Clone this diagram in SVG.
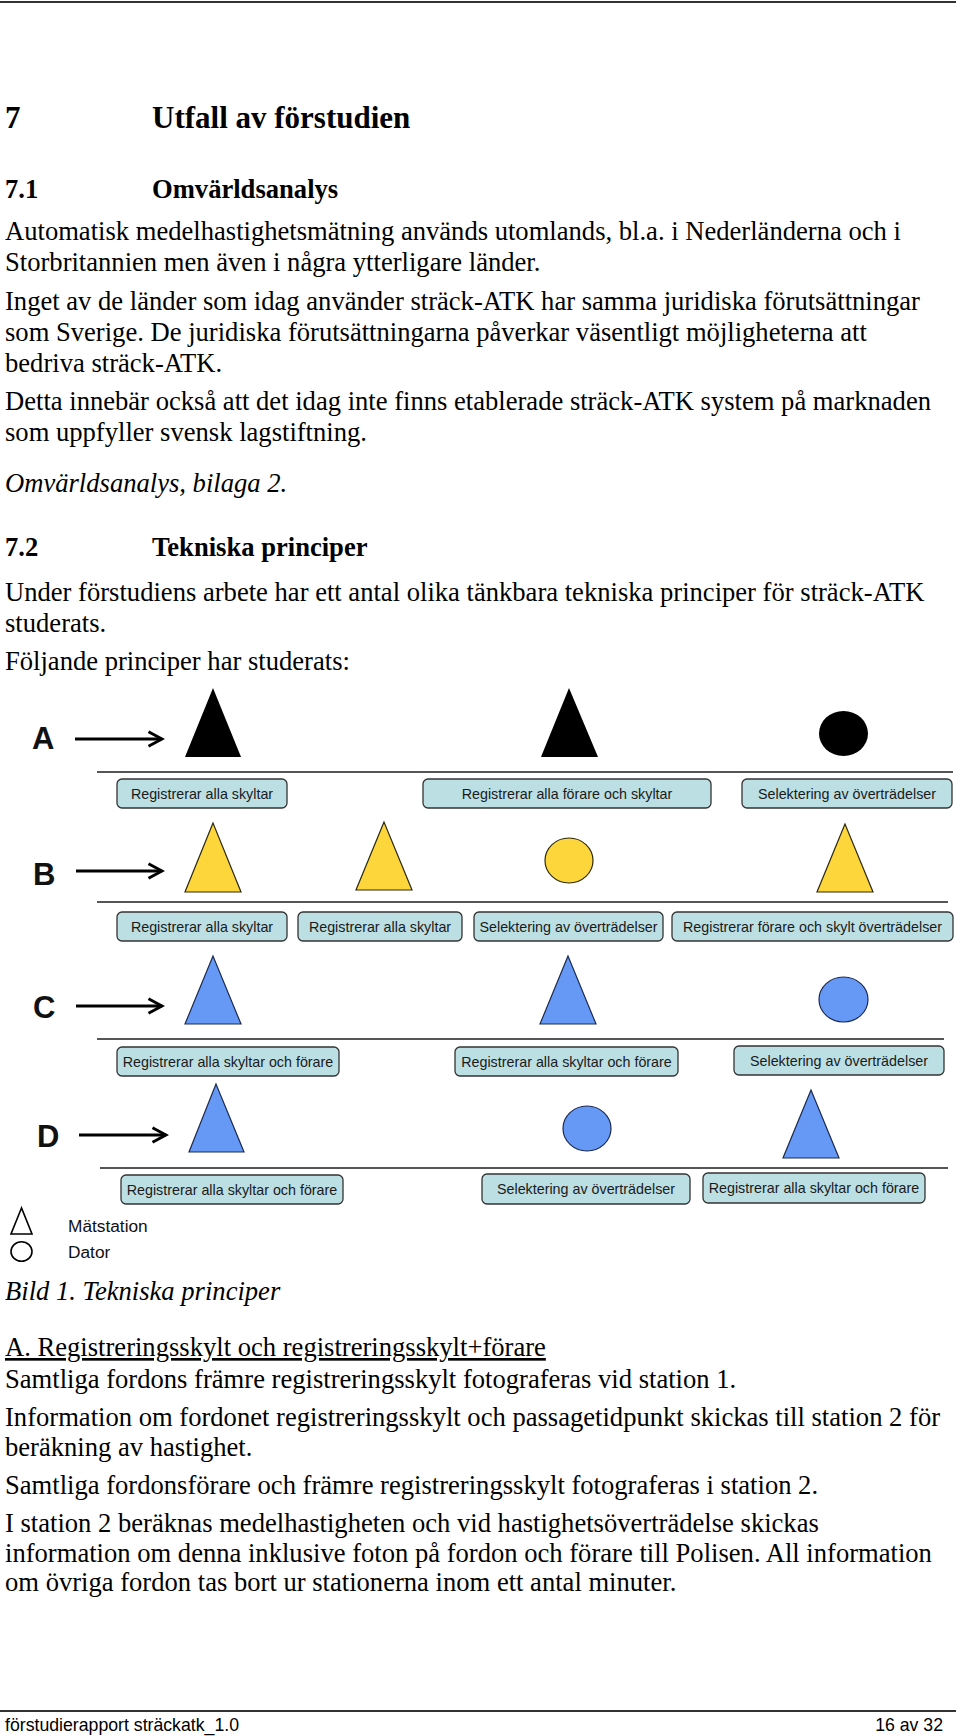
<svg xmlns="http://www.w3.org/2000/svg" width="960" height="1736" viewBox="0 0 960 1736">
<defs>
<style>
.h1{font-family:"Liberation Serif","Times New Roman",serif;font-weight:bold;font-size:31px;fill:#000}
.h2{font-family:"Liberation Serif","Times New Roman",serif;font-weight:bold;font-size:26.6px;fill:#000}
.b{font-family:"Liberation Serif","Times New Roman",serif;font-size:26.6px;fill:#000}
.i{font-family:"Liberation Serif","Times New Roman",serif;font-style:italic;font-size:26.6px;fill:#000}
.lbl{font-family:"Liberation Sans",Arial,sans-serif;font-weight:bold;font-size:31px;fill:#111}
.bx{fill:#bcdfe4;stroke:#333;stroke-width:1.3}
.bt{font-family:"Liberation Sans",Arial,sans-serif;font-size:14.3px;fill:#1a1a1a;text-anchor:middle}
.blk{fill:#000}
.yel{fill:#fdd63b;stroke:#2d2a10;stroke-width:1.2}
.blu{fill:#6699f5;stroke:#1c2a50;stroke-width:1.2}
.sep{stroke:#555;stroke-width:2;fill:none}
.arr{stroke:#000;stroke-width:3;fill:none}
.leg{font-family:"Liberation Sans",Arial,sans-serif;font-size:17.3px;fill:#111}
.ft{font-family:"Liberation Sans",Arial,sans-serif;font-size:17.7px;fill:#000}
.rule{stroke:#333;stroke-width:2}
</style>
<marker id="ah" markerWidth="6" markerHeight="6" refX="5" refY="3" orient="auto" markerUnits="strokeWidth">
<path d="M0.5,0.6 L5,3 L0.5,5.4" fill="none" stroke="#000" stroke-width="1"/>
</marker>
</defs>
<rect width="960" height="1736" fill="#fff"/>
<line class="rule" x1="0" y1="2" x2="956" y2="2"/>

<g id="text-top">
<text class="h1" x="5" y="128">7</text>
<text class="h1" x="152" y="128">Utfall av förstudien</text>
<text class="h2" x="5" y="198">7.1</text>
<text class="h2" x="152" y="198">Omvärldsanalys</text>
<text class="b" x="5" y="240">Automatisk medelhastighetsmätning används utomlands, bl.a. i Nederländerna och i</text>
<text class="b" x="5" y="271">Storbritannien men även i några ytterligare länder.</text>
<text class="b" x="5" y="310">Inget av de länder som idag använder sträck-ATK har samma juridiska förutsättningar</text>
<text class="b" x="5" y="341">som Sverige. De juridiska förutsättningarna påverkar väsentligt möjligheterna att</text>
<text class="b" x="5" y="372">bedriva sträck-ATK.</text>
<text class="b" x="5" y="410">Detta innebär också att det idag inte finns etablerade sträck-ATK system på marknaden</text>
<text class="b" x="5" y="441">som uppfyller svensk lagstiftning.</text>
<text class="i" x="5" y="492">Omvärldsanalys, bilaga 2.</text>
<text class="h2" x="5" y="556">7.2</text>
<text class="h2" x="152" y="556">Tekniska principer</text>
<text class="b" x="5" y="601">Under förstudiens arbete har ett antal olika tänkbara tekniska principer för sträck-ATK</text>
<text class="b" x="5" y="632">studerats.</text>
<text class="b" x="5" y="670">Följande principer har studerats:</text>
</g>

<g id="connectors">
<line class="arr" x1="75" y1="739" x2="162" y2="739" marker-end="url(#ah)"/>
<line class="arr" x1="76" y1="871" x2="162" y2="871" marker-end="url(#ah)"/>
<line class="arr" x1="76" y1="1006" x2="162" y2="1006" marker-end="url(#ah)"/>
<line class="arr" x1="79" y1="1135" x2="166" y2="1135" marker-end="url(#ah)"/>
<line class="sep" x1="97" y1="772" x2="953" y2="772"/>
<line class="sep" x1="97" y1="902" x2="948" y2="902"/>
<line class="sep" x1="97" y1="1039" x2="944" y2="1039"/>
<line class="sep" x1="100" y1="1168" x2="948" y2="1168"/>
</g>

<g id="row-A">
<text class="lbl" x="32" y="749">A</text>
<polygon id="A-t1" class="blk" points="213,688 185,757 241,757"/>
<polygon id="A-t2" class="blk" points="569,688 541,757 598,757"/>
<ellipse id="A-c1" class="blk" cx="843.5" cy="733.5" rx="24.5" ry="22.5"/>
<g id="A-box1"><rect class="bx" x="117" y="779" width="170" height="29" rx="5"/><text class="bt" x="202" y="798.5">Registrerar alla skyltar</text></g>
<g id="A-box2"><rect class="bx" x="423" y="779" width="288" height="29" rx="5"/><text class="bt" x="567" y="798.5">Registrerar alla förare och skyltar</text></g>
<g id="A-box3"><rect class="bx" x="742" y="779" width="210" height="29" rx="5"/><text class="bt" x="847" y="798.5">Selektering av överträdelser</text></g>
</g>

<g id="row-B">
<text class="lbl" x="33" y="885">B</text>
<polygon id="B-t1" class="yel" points="213,823 185,892 241,892"/>
<polygon id="B-t2" class="yel" points="384,822 356,890 412,890"/>
<ellipse id="B-c1" class="yel" cx="569" cy="860.5" rx="24" ry="22.5"/>
<polygon id="B-t3" class="yel" points="845,824 817,892 873,892"/>
<g id="B-box1"><rect class="bx" x="117" y="912" width="170" height="29" rx="5"/><text class="bt" x="202" y="931.5">Registrerar alla skyltar</text></g>
<g id="B-box2"><rect class="bx" x="298" y="912" width="164" height="29" rx="5"/><text class="bt" x="380" y="931.5">Registrerar alla skyltar</text></g>
<g id="B-box3"><rect class="bx" x="474" y="912" width="189" height="29" rx="5"/><text class="bt" x="568.5" y="931.5">Selektering av överträdelser</text></g>
<g id="B-box4"><rect class="bx" x="672" y="912" width="281" height="29" rx="5"/><text class="bt" x="812.5" y="931.5">Registrerar förare och skylt överträdelser</text></g>
</g>

<g id="row-C">
<text class="lbl" x="33" y="1018">C</text>
<polygon id="C-t1" class="blu" points="213,956 185,1024 241,1024"/>
<polygon id="C-t2" class="blu" points="568,956 540,1024 596,1024"/>
<ellipse id="C-c1" class="blu" cx="843.5" cy="999.5" rx="24.5" ry="22.5"/>
<g id="C-box1"><rect class="bx" x="117" y="1047" width="222" height="29" rx="5"/><text class="bt" x="228" y="1066.5">Registrerar alla skyltar och förare</text></g>
<g id="C-box2"><rect class="bx" x="455" y="1047" width="223" height="29" rx="5"/><text class="bt" x="566.5" y="1066.5">Registrerar alla skyltar och förare</text></g>
<g id="C-box3"><rect class="bx" x="734" y="1046" width="210" height="29" rx="5"/><text class="bt" x="839" y="1065.5">Selektering av överträdelser</text></g>
</g>

<g id="row-D">
<text class="lbl" x="37" y="1147">D</text>
<polygon id="D-t1" class="blu" points="216,1084 189,1152 244,1152"/>
<ellipse id="D-c1" class="blu" cx="587" cy="1128.5" rx="24" ry="22.5"/>
<polygon id="D-t2" class="blu" points="811,1090 783,1158 839,1158"/>
<g id="D-box1"><rect class="bx" x="121" y="1175" width="222" height="29" rx="5"/><text class="bt" x="232" y="1194.5">Registrerar alla skyltar och förare</text></g>
<g id="D-box2"><rect class="bx" x="482" y="1174" width="208" height="30" rx="5"/><text class="bt" x="586" y="1194">Selektering av överträdelser</text></g>
<g id="D-box3"><rect class="bx" x="703" y="1173" width="222" height="30" rx="5"/><text class="bt" x="814" y="1193">Registrerar alla skyltar och förare</text></g>
</g>

<g id="legend">
<polygon points="21.5,1208 11,1234 32,1234" fill="none" stroke="#000" stroke-width="1.6"/>
<text class="leg" x="68" y="1232">Mätstation</text>
<ellipse cx="21.5" cy="1251.5" rx="10.5" ry="9.8" fill="none" stroke="#000" stroke-width="1.6"/>
<text class="leg" x="68" y="1258">Dator</text>
</g>

<g id="text-bottom">
<text class="i" x="5" y="1300">Bild 1. Tekniska principer</text>
<text class="b" x="5" y="1356" text-decoration="underline">A. Registreringsskylt och registreringsskylt+förare</text>
<text class="b" x="5" y="1388">Samtliga fordons främre registreringsskylt fotograferas vid station 1.</text>
<text class="b" x="5" y="1426">Information om fordonet registreringsskylt och passagetidpunkt skickas till station 2 för</text>
<text class="b" x="5" y="1456">beräkning av hastighet.</text>
<text class="b" x="5" y="1494">Samtliga fordonsförare och främre registreringsskylt fotograferas i station 2.</text>
<text class="b" x="5" y="1532">I station 2 beräknas medelhastigheten och vid hastighetsöverträdelse skickas</text>
<text class="b" x="5" y="1562">information om denna inklusive foton på fordon och förare till Polisen. All information</text>
<text class="b" x="5" y="1591">om övriga fordon tas bort ur stationerna inom ett antal minuter.</text>
</g>

<g id="footer">
<line class="rule" x1="0" y1="1711" x2="956" y2="1711"/>
<text class="ft" x="5" y="1731">förstudierapport sträckatk_1.0</text>
<text class="ft" x="943" y="1731" text-anchor="end">16 av 32</text>
</g>
</svg>
